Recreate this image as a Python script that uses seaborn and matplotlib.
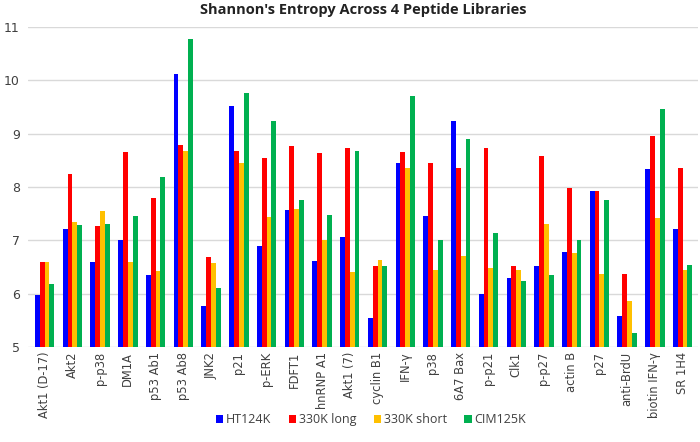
import matplotlib
matplotlib.use("Agg")
import matplotlib.pyplot as plt
import seaborn as sns
import pandas as pd

categories = ["Akt1 (D-17)", "Akt2", "p-p38", "DM1A", "p53 Ab1", "p53 Ab8", "JNK2", "p21",
              "p-ERK", "FDFT1", "hnRNP A1", "Akt1 (7)", "cyclin B1", "IFN-γ", "p38", "6A7 Bax",
              "p-p21", "Clk1", "p-p27", "actin B", "p27", "anti-BrdU", "biotin IFN-γ", "SR 1H4"]

ht124k = [5.97, 7.21, 6.60, 7.01, 6.35, 10.11, 5.77, 9.51, 6.89, 7.57, 6.61, 7.06,
          5.54, 8.44, 7.46, 9.23, 6.00, 6.29, 6.52, 6.79, 7.93, 5.58, 8.33, 7.22]
long330k = [6.60, 8.25, 7.27, 8.65, 7.79, 8.79, 6.68, 8.67, 8.54, 8.76, 8.64, 8.73,
            6.52, 8.66, 8.44, 8.36, 8.73, 6.51, 8.58, 7.98, 7.92, 6.37, 8.95, 8.35]
short330k = [6.60, 7.35, 7.55, 6.59, 6.42, 8.67, 6.57, 8.45, 7.44, 7.58, 7.00, 6.40,
             6.64, 8.35, 6.45, 6.71, 6.49, 6.45, 7.31, 6.76, 6.36, 5.87, 7.42, 6.45]
cim125k = [6.18, 7.28, 7.30, 7.46, 8.18, 10.78, 6.11, 9.76, 9.23, 7.76, 7.48, 8.68,
           6.52, 9.70, 7.01, 8.89, 7.13, 6.24, 6.35, 7.01, 7.76, 5.26, 9.46, 6.54]

series = ["HT124K", "330K long", "330K short", "CIM125K"]
colors = ["#0000FF", "#FF0000", "#FFC000", "#00B050"]

rows = []
for name, vals in zip(series, [ht124k, long330k, short330k, cim125k]):
    for c, v in zip(categories, vals):
        rows.append({"peptide": c, "library": name, "entropy": v})
df = pd.DataFrame(rows)

sns.set_style("white")
plt.rcParams["font.family"] = ["DejaVu Sans"]

fig, ax = plt.subplots(figsize=(7, 4.42), dpi=100)
sns.barplot(data=df, x="peptide", y="entropy", hue="library", hue_order=series,
            palette=colors, width=0.7, gap=0, saturation=1, linewidth=0, ax=ax, zorder=2)

ax.set_ylim(5, 11)
ax.set_yticks(range(5, 12))
ax.set_xlim(-0.6, len(categories) - 0.45)
ax.yaxis.grid(True, color="#D9D9D9", linewidth=1, zorder=0)
ax.set_axisbelow(True)
for s in ax.spines.values():
    s.set_visible(False)
ax.set_xlabel("")
ax.set_ylabel("")
ax.tick_params(axis="both", length=0, labelsize=8.3, colors="#404040")
ax.tick_params(axis="y", labelsize=9, pad=6)
plt.setp(ax.get_xticklabels(), rotation=90)
ax.set_title("Shannon's Entropy Across 4 Peptide Libraries", fontsize=10.5, fontweight="bold",
             pad=9, family=["Open Sans", "DejaVu Sans"], color="#222222")

ax.get_legend().remove()
handles, labels = ax.get_legend_handles_labels()
fig.legend(handles, labels, loc="center", bbox_to_anchor=(0.53, 0.05), ncol=4, frameon=False,
           prop={"family": ["Open Sans", "DejaVu Sans"], "size": 9},
           handlelength=0.6, handleheight=0.6, handletextpad=0.2, columnspacing=1.4,
           labelcolor="#404040")

fig.subplots_adjust(left=0.04, right=0.997, top=0.939, bottom=0.215)
fig.savefig("out.png", dpi=100)
